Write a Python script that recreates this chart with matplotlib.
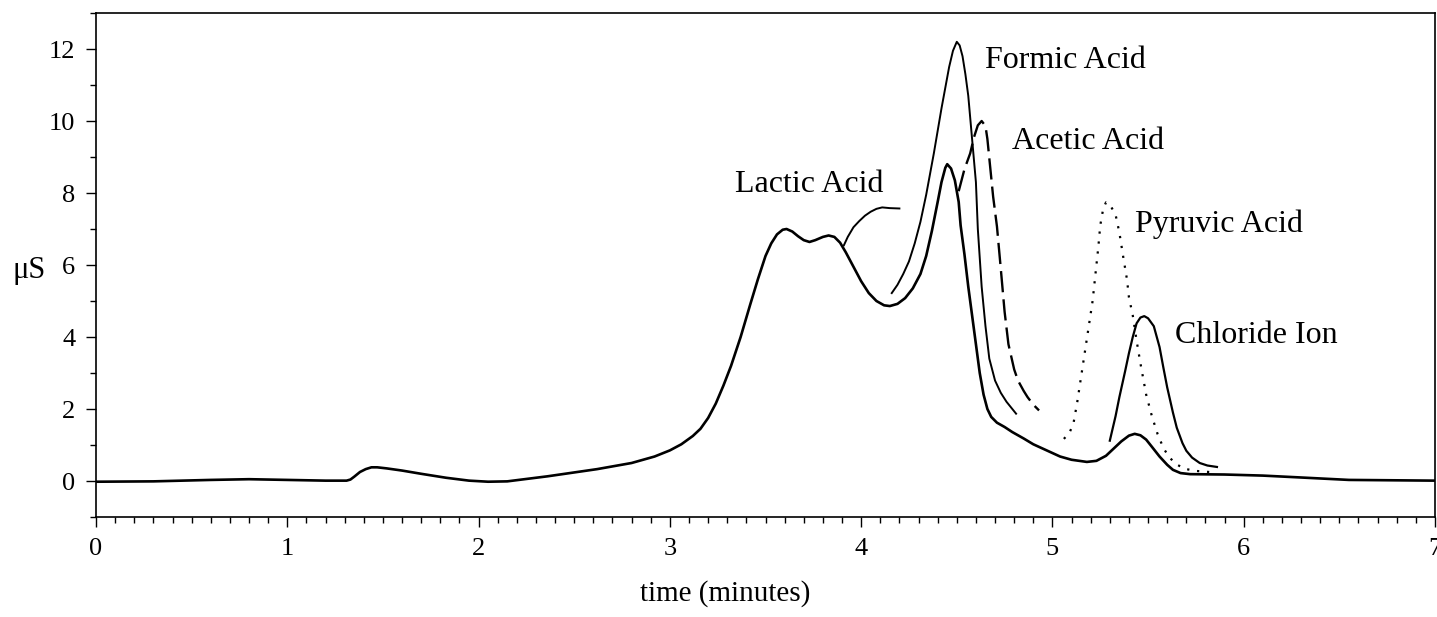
import numpy as np
import matplotlib
matplotlib.use("Agg")
import matplotlib.pyplot as plt
from matplotlib.ticker import MultipleLocator

plt.rcParams['font.family'] = ['Liberation Serif', 'DejaVu Serif']

# main chromatogram (whole run)
main_t = [0.00, 0.30, 0.60, 0.80, 1.00, 1.20, 1.31, 1.33, 1.35, 1.38, 1.41, 1.44,
          1.47, 1.52, 1.60, 1.70, 1.83, 1.95, 2.05, 2.15, 2.36, 2.62, 2.80, 2.92,
          3.00, 3.06, 3.12, 3.16, 3.20, 3.24, 3.28, 3.32, 3.37, 3.42, 3.46, 3.50,
          3.53, 3.56, 3.59, 3.61, 3.64, 3.67, 3.70, 3.73, 3.76, 3.80, 3.83, 3.86,
          3.89, 3.92, 3.96, 4.00, 4.04, 4.08, 4.12, 4.15, 4.19, 4.23, 4.27, 4.31,
          4.34, 4.37, 4.40, 4.42, 4.44, 4.45, 4.47, 4.49, 4.51, 4.52, 4.54, 4.56,
          4.58, 4.60, 4.62, 4.64, 4.66, 4.68, 4.71, 4.75, 4.79, 4.85, 4.90, 4.97,
          5.04, 5.10, 5.18, 5.23, 5.28, 5.32, 5.36, 5.40, 5.43, 5.46, 5.49, 5.52,
          5.56, 5.60, 5.63, 5.67, 5.72, 5.90, 6.10, 6.29, 6.55, 7.00]
main_y = [-0.02, -0.01, 0.03, 0.05, 0.03, 0.01, 0.01, 0.04, 0.12, 0.25, 0.33, 0.38,
          0.38, 0.35, 0.29, 0.20, 0.09, 0.01, -0.02, -0.01, 0.13, 0.33, 0.50, 0.68,
          0.85, 1.02, 1.25, 1.45, 1.75, 2.15, 2.65, 3.20, 4.00, 4.90, 5.60, 6.25,
          6.60, 6.85, 6.98, 7.00, 6.93, 6.80, 6.69, 6.64, 6.69, 6.78, 6.82, 6.78,
          6.62, 6.35, 5.95, 5.55, 5.22, 5.00, 4.88, 4.86, 4.92, 5.08, 5.35, 5.75,
          6.25, 6.95, 7.75, 8.30, 8.70, 8.80, 8.68, 8.35, 7.75, 7.10, 6.30, 5.40,
          4.60, 3.80, 3.00, 2.40, 2.00, 1.78, 1.62, 1.50, 1.36, 1.18, 1.02, 0.85,
          0.68, 0.59, 0.53, 0.56, 0.70, 0.90, 1.10, 1.26, 1.31, 1.27, 1.15, 0.95,
          0.68, 0.45, 0.31, 0.22, 0.19, 0.18, 0.15, 0.10, 0.03, 0.01]

lactic_t = [3.91, 3.93, 3.96, 3.99, 4.02, 4.05, 4.08, 4.11, 4.15, 4.20]
lactic_y = [6.55, 6.78, 7.05, 7.22, 7.37, 7.48, 7.56, 7.60, 7.58, 7.57]

formic_t = [4.16, 4.19, 4.22, 4.25, 4.28, 4.31, 4.34, 4.38, 4.42, 4.46, 4.48, 4.50,
            4.515, 4.53, 4.545, 4.56, 4.58, 4.60, 4.61, 4.62, 4.63, 4.65, 4.67, 4.70,
            4.73, 4.76, 4.81]
formic_y = [5.22, 5.45, 5.75, 6.10, 6.60, 7.20, 7.95, 9.10, 10.35, 11.50, 11.95, 12.20,
            12.10, 11.80, 11.30, 10.70, 9.50, 8.30, 7.00, 6.20, 5.40, 4.30, 3.40, 2.79,
            2.45, 2.20, 1.87]

acetic_t = [4.51, 4.54, 4.57, 4.59, 4.61, 4.63, 4.65, 4.66, 4.675, 4.69, 4.71, 4.73,
            4.75, 4.77, 4.80, 4.82, 4.85, 4.87, 4.90, 4.93]
acetic_y = [8.05, 8.66, 9.10, 9.55, 9.88, 10.00, 9.86, 9.50, 8.70, 7.90, 7.07, 5.90,
            4.70, 3.80, 3.10, 2.79, 2.50, 2.33, 2.12, 1.96]

pyruvic_t = [5.06, 5.09, 5.11, 5.13, 5.15, 5.17, 5.19, 5.21, 5.22, 5.24, 5.25, 5.265,
             5.28, 5.30, 5.33, 5.35, 5.37, 5.39, 5.40, 5.42, 5.44, 5.46, 5.49, 5.52,
             5.55, 5.58, 5.61, 5.65, 5.69, 5.75, 5.82]
pyruvic_y = [1.17, 1.35, 1.60, 2.20, 2.90, 3.60, 4.30, 5.00, 5.50, 6.50, 7.10, 7.55,
             7.74, 7.68, 7.40, 6.90, 6.23, 5.59, 5.10, 4.60, 3.90, 3.27, 2.40, 1.80,
             1.30, 0.92, 0.66, 0.46, 0.34, 0.28, 0.25]

chloride_t = [5.30, 5.33, 5.35, 5.38, 5.40, 5.42, 5.44, 5.46, 5.48, 5.50, 5.53, 5.56,
              5.58, 5.60, 5.63, 5.65, 5.68, 5.70, 5.73, 5.77, 5.81, 5.86]
chloride_y = [1.12, 1.80, 2.33, 3.05, 3.55, 4.00, 4.38, 4.54, 4.58, 4.52, 4.30, 3.72,
              3.15, 2.60, 1.90, 1.48, 1.05, 0.84, 0.65, 0.50, 0.43, 0.39]

labels = ["Lactic Acid", "Formic Acid", "Acetic Acid", "Pyruvic Acid", "Chloride Ion"]
label_t = [3.34, 4.65, 4.79, 5.43, 5.64]
label_y = [8.02, 11.48, 9.22, 6.93, 3.83]

fig = plt.figure(figsize=(14.37, 6.17), dpi=100)
ax = fig.add_axes([96 / 1437, 1 - 517 / 617, 1339 / 1437, 504 / 617])

ax.plot(main_t, main_y, color='black', lw=1.9)
ax.plot(lactic_t, lactic_y, color='black', lw=1.4)
ax.plot(formic_t, formic_y, color='black', lw=1.4)
ax.plot(acetic_t, acetic_y, color='black', lw=1.7, dashes=(9, 3))
ax.plot(pyruvic_t, pyruvic_y, color='black', lw=1.6, dashes=(1, 3.5))
ax.plot(chloride_t, chloride_y, color='black', lw=1.6)

for name, tx, ty in zip(labels, label_t, label_y):
    ax.text(tx, ty, name, fontsize=23, ha='left', va='baseline')

ax.set_xlim(0, 7)
ax.set_ylim(-1, 13)
ax.xaxis.set_major_locator(MultipleLocator(1))
ax.xaxis.set_minor_locator(MultipleLocator(0.1))
ax.yaxis.set_minor_locator(MultipleLocator(1))
ax.set_yticks([0, 2, 4, 6, 8, 10, 12])
ax.tick_params(which='both', direction='out', top=False, right=False, width=1.0)
ax.tick_params(which='major', length=7, labelsize=19, pad=8)
ax.tick_params(which='minor', length=4)
for s in ax.spines.values():
    s.set_linewidth(1.2)

ax.set_xlabel('time (minutes)', fontsize=21)
ax.xaxis.set_label_coords(0.47, -0.125)
ax.set_ylabel('μS', fontsize=22, rotation=0, va='center', ha='center')
ax.yaxis.set_label_coords(-0.05, 0.49)

fig.savefig('out.png', dpi=100)
